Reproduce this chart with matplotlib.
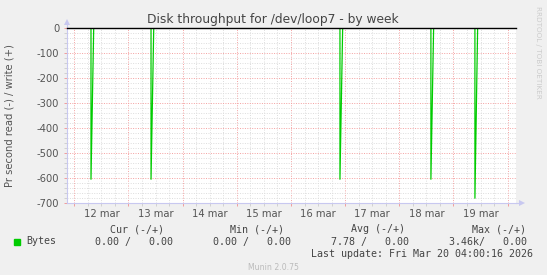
import matplotlib
matplotlib.use("Agg")
import matplotlib.pyplot as plt
from matplotlib.ticker import MultipleLocator, FuncFormatter

# ---- data (hours relative to 12 mar 00:00) ----
day_labels = ["12 mar", "13 mar", "14 mar", "15 mar", "16 mar", "17 mar", "18 mar", "19 mar"]
spike_hours = [7.4, 34.0, 117.7, 158.0, 177.5]
spike_read = [-605, -605, -605, -605, -681]
x_start, x_end = -3.23, 195.7
step_h = 1.2

legend_header = ["Cur (-/+)", "Min (-/+)", "Avg (-/+)", "Max (-/+)"]
legend_values = ["0.00 /   0.00", "0.00 /   0.00", "7.78 /   0.00", "3.46k/   0.00"]
series_name = "Bytes"
last_update = "Last update: Fri Mar 20 04:00:16 2026"

# build the read line (0 baseline with spikes)
xs = [x_start]
ys = [0]
for h, v in zip(spike_hours, spike_read):
    xs += [h, h, h + step_h]
    ys += [0, v, 0]
xs.append(x_end)
ys.append(0)

W, H = 547, 275
fig = plt.figure(figsize=(W / 100, H / 100), dpi=100, facecolor="#F0F0F0")
L, R, T, B = 67, 516, 28, 203
ax = fig.add_axes([L / W, 1 - B / H, (R - L) / W, (B - T) / H])
ax.set_facecolor("white")

ax.plot(xs, ys, color="#00CC00", lw=0.9, zorder=3)
ax.plot([x_start, x_end], [0, 0], color="black", lw=1.0, zorder=4, clip_on=False)

ax.set_xlim(x_start, x_end)
ax.set_ylim(-700, 0)

ax.yaxis.set_major_locator(MultipleLocator(100))
ax.yaxis.set_minor_locator(MultipleLocator(20))
ax.yaxis.set_major_formatter(FuncFormatter(lambda v, p: f"{int(round(v))}"))

ax.xaxis.set_major_locator(MultipleLocator(24))
ax.xaxis.set_minor_locator(MultipleLocator(6))
ax.xaxis.set_major_formatter(FuncFormatter(lambda v, p: ""))

def minor_fmt(v, p):
    hv = int(round(v))
    if hv % 24 == 12:
        d = hv // 24
        if 0 <= d < len(day_labels):
            return day_labels[d]
    return ""

ax.xaxis.set_minor_formatter(FuncFormatter(minor_fmt))

ax.grid(which="minor", color="#DDDDDD", linestyle=(0, (1, 1.5)), lw=0.7, zorder=1)
ax.grid(which="major", color="#F4A0A0", linestyle=(0, (1, 1.5)), lw=0.7, zorder=2)
ax.set_axisbelow(True)

ax.tick_params(axis="both", which="major", length=2.5, width=0.6, color="#F09090",
               labelsize=7.2, labelcolor="#555555", pad=2)
ax.tick_params(axis="both", which="minor", length=2, width=0.6, color="#CCCCCC",
               labelsize=7.2, labelcolor="#555555", pad=2.5)
ax.tick_params(axis="y", which="major", pad=3)

for s in ["top", "right"]:
    ax.spines[s].set_visible(False)
for s in ["left", "bottom"]:
    ax.spines[s].set_color("#C8C8F0")
    ax.spines[s].set_linewidth(0.8)

# axis extensions and arrows
ax.plot([0, 0], [1.0, 1.03], transform=ax.transAxes, color="#C8C8F0", lw=0.8, clip_on=False)
ax.plot([1.0, 1.01], [0, 0], transform=ax.transAxes, color="#C8C8F0", lw=0.8, clip_on=False)
ax.plot([0], [1.035], transform=ax.transAxes, marker="^", ms=4, color="#C8C8F0", mew=0, clip_on=False)
ax.plot([1.0125], [0], transform=ax.transAxes, marker=">", ms=4, color="#C8C8F0", mew=0, clip_on=False)

fig.text(273 / W, 1 - 19 / H, "Disk throughput for /dev/loop7 - by week", ha="center", va="center",
         fontsize=8.8, color="#444444")
fig.text(10 / W, 1 - 116 / H, "Pr second read (-) / write (+)", rotation=90, ha="center", va="center",
         fontsize=7.2, color="#555555")
fig.text(538 / W, 1 - 52 / H, "RRDTOOL / TOBI OETIKER", rotation=270, ha="center", va="center",
         fontsize=5.2, color="#CCCCCC")

mono = "DejaVu Sans Mono"
fs = 7.2
col = "#444444"
header_right = [164, 284, 405, 526]
value_right = [173, 291, 409, 527]
for txt, xr in zip(legend_header, header_right):
    fig.text(xr / W, 1 - 229 / H, txt, ha="right", va="center", family=mono, fontsize=fs, color=col)
for txt, xr in zip(legend_values, value_right):
    fig.text(xr / W, 1 - 241.5 / H, txt, ha="right", va="center", family=mono, fontsize=fs, color=col)
fig.patches.append(plt.Rectangle((14 / W, 1 - 244.5 / H), 5.5 / W, 5.5 / H, transform=fig.transFigure,
                                 color="#00CC00", figure=fig))
fig.text(26 / W, 1 - 241.5 / H, series_name, ha="left", va="center", family=mono, fontsize=fs, color=col)
fig.text(533 / W, 1 - 254 / H, last_update, ha="right", va="center", family=mono, fontsize=fs, color=col)
fig.text(273 / W, 1 - 267 / H, "Munin 2.0.75", ha="center", va="center", fontsize=5.6, color="#BBBBBB")

fig.savefig("out.png", dpi=100, facecolor=fig.get_facecolor())
